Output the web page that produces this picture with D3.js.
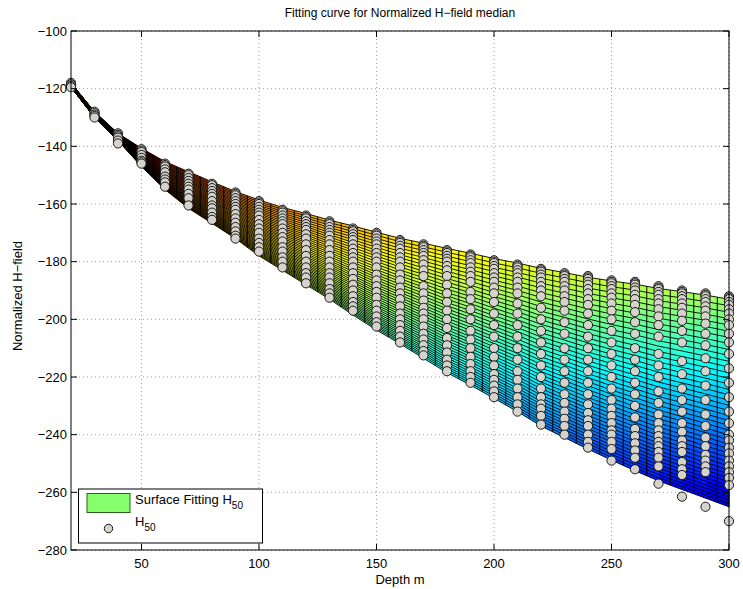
<!DOCTYPE html>
<html><head><meta charset="utf-8">
<script src="https://cdn.jsdelivr.net/npm/d3@7"></script>
<style>body{margin:0;background:#fff} text{font-family:"Liberation Sans",Arial,Helvetica,sans-serif;fill:#000}</style>
</head><body><svg id="c" width="743" height="589"></svg>
<script>
// ---------- data ----------
const depths = [20,30,40,50,60,70,80,90,100,110,120,130,140,150,160,170,180,190,200,210,220,230,240,250,260,270,280,290,300];
const surfTop = [-118,-128,-135.5,-140.7,-145.3,-148.8,-152.3,-155.7,-158.6,-161.2,-163.3,-165.6,-167.6,-169.8,-171.9,-173.6,-175.4,-177.1,-178.9,-180.5,-182.3,-183.8,-185.4,-186.7,-187.8,-189.3,-190.4,-191.6,-193];
const surfBottom = [-119.5,-130,-138,-147,-155,-161.5,-166.7,-172,-178,-183,-188,-193,-198.5,-203.7,-208.5,-213.5,-218.5,-222.8,-227.4,-232,-237,-241,-245,-248.8,-252.5,-256,-259,-262,-265];
const meshLevels = [0,.0317,.0630,.0940,.1245,.1547,.1845,.2139,.2429,.2715,.2998,.3276,.3551,.3822,.4089,.4352,.4611,.4867,.5118,.5366,.5610,.5850,.6086,.6318,.6547,.6772,.6992,.7209,.7422,.7631,.7837,.8038,.8236,.8430,.8619,.8806,.8988,.9166,.9341,.9511,.9678,.9841,1];
const colorLimits = [-278,-118];
const h50 = [
 [-118,-118.5,-119,-119.5],
 [-128,-128.5,-129,-129.5,-130],
 [-135.5,-136,-136.5,-137,-138,-139],
 [-141,-141.5,-142,-143,-144,-145,-145.5,-146],
 [-146,-146.5,-147,-148,-149,-150.5,-151.5,-152.5,-154],
 [-149.5,-150,-151,-152,-153,-154,-155,-156.5,-158,-160.5],
 [-153,-153.5,-154.5,-155.5,-156.5,-157.5,-159,-160.5,-161.5,-163,-164.5,-165.5],
 [-156,-156.5,-157,-158,-159,-160,-161,-162,-163.5,-165,-166.5,-168,-169.5,-171,-172],
 [-159,-159.5,-160,-161,-162,-163,-164,-165.5,-167,-168.5,-170,-172,-173.5,-175,-176.5],
 [-162,-162.5,-163,-164,-165,-166,-167,-168.5,-170,-171.5,-173,-175,-176.5,-178.5,-180,-182],
 [-164,-164.5,-165,-166,-167,-168,-169,-170.5,-172,-174,-176,-178,-180,-182,-184,-185.5,-187.5],
 [-166,-166.5,-167,-168,-169,-170,-171,-172.5,-174,-176,-178,-180,-182,-184,-185.5,-187.5,-189.5,-191,-192.5],
 [-168.5,-169,-169.5,-170.5,-171.5,-172.5,-174,-175.5,-177,-178.5,-180,-182,-184,-186,-188,-190,-192,-194,-195.5,-197],
 [-170,-170.5,-171,-172,-173,-174,-175.5,-177,-178.5,-180,-182,-184.5,-186.5,-188.5,-190.5,-192.5,-195,-197,-199,-201,-202.5],
 [-172.5,-173,-173.5,-174.5,-175.5,-177,-178.5,-180,-182,-184.5,-186.5,-189,-191,-193,-195.5,-198,-200,-202,-204,-206,-208],
 [-174,-174.5,-175,-176,-177,-178,-179.5,-181,-183,-185,-188.5,-191,-193.5,-196,-198,-200,-202.5,-205,-207,-209,-211,-212.5],
 [-176,-176.5,-177,-178,-179,-180,-181.5,-183,-185,-188,-191,-194,-197,-200,-203,-206.5,-209,-211.5,-214,-216,-218],
 [-177.5,-178,-178.5,-179.5,-180.5,-182,-183.5,-185,-187,-190.5,-193,-196.5,-200,-204,-207,-210,-213,-215.5,-218,-220,-222],
 [-179.5,-180,-180.5,-181.5,-182.5,-184,-185.5,-187,-189,-191,-194,-198,-202,-206,-210,-213,-216,-219,-221,-223,-225,-227],
 [-181,-181.5,-182,-183,-184,-185.5,-187,-189,-191,-194.5,-198,-202,-206,-210,-214,-218,-221,-224,-227,-229.5,-232],
 [-182.5,-183,-183.5,-184.5,-185.5,-187,-188.5,-190,-192,-196,-200,-204,-208,-212,-216,-220,-224,-227,-229.5,-231,-233.5,-236.5],
 [-184,-184.5,-185,-186,-187,-188.5,-190,-192,-194,-197,-201,-205,-210,-214,-218,-222,-226,-229,-232,-234.5,-237,-240],
 [-185,-185.5,-186,-187,-188,-189.5,-191,-193,-195,-198,-202,-206,-210,-214,-218,-222,-226,-229.5,-232.5,-235,-237,-240,-242.5,-244.5],
 [-186.5,-187,-187.5,-188.5,-189.5,-191,-192.5,-194.5,-197,-200,-204,-208,-212,-216,-220,-224,-228,-231,-233.5,-236,-238.5,-240,-242.5,-245,-249],
 [-187,-187.5,-188,-189,-190,-191.5,-193,-195,-197.5,-201,-205,-210,-214,-218,-222,-226,-230,-234,-238,-240.5,-243,-245.5,-248,-252],
 [-188.5,-189,-189.5,-190.5,-191.5,-193,-194.5,-196.5,-199,-202,-206,-212,-216,-220,-225,-229,-233,-236,-238.5,-240.5,-242.5,-244,-246,-248,-251,-257],
 [-190,-190.5,-191,-192,-193,-194.5,-196,-198,-200.5,-204,-208,-214.5,-219,-224,-228,-232,-236,-239,-242,-244,-246,-249.5,-252,-254,-261.5],
 [-191,-191.5,-192,-193,-194,-195.5,-197,-199,-201.5,-205,-209,-213.5,-218,-223,-228,-233,-237,-241,-244,-247,-249,-251,-253,-265],
 [-192,-192.5,-193,-194,-195,-196.5,-198,-200,-202,-205,-208,-212,-217,-222,-227,-232,-236,-240,-242,-244.5,-246.5,-249,-251,-253,-255,-257.5,-270]
];
const xTicks = [50,100,150,200,250,300];
const yTicks = [-100,-120,-140,-160,-180,-200,-220,-240,-260,-280];

// ---------- layout ----------
const svg = d3.select("#c");
const L = 71, R = 729, T = 31, B = 550;
const x = d3.scaleLinear().domain([20,300]).range([L,R]);
const y = d3.scaleLinear().domain([-280,-100]).range([B,T]);
const fmt = v => (v<0 ? "\u2212"+Math.abs(v) : ""+v);

function jet(t){
  t = Math.max(0, Math.min(1, t));
  const c = v => Math.round(255*Math.max(0, Math.min(1, v)));
  return `rgb(${c(1.5-Math.abs(4*t-3))},${c(1.5-Math.abs(4*t-2))},${c(1.5-Math.abs(4*t-1))})`;
}
const cnorm = d3.scaleLinear().domain(colorLimits).range([0,1]);

// grid
const grid = svg.append("g").attr("stroke","#777").attr("stroke-width",0.7).attr("stroke-dasharray","1,3");
xTicks.forEach(v=>grid.append("line").attr("x1",x(v)).attr("x2",x(v)).attr("y1",T).attr("y2",B));
yTicks.forEach(v=>grid.append("line").attr("x1",L).attr("x2",R).attr("y1",y(v)).attr("y2",y(v)));

// surface
const zAt = (i,k) => surfTop[i] + meshLevels[k]*(surfBottom[i]-surfTop[i]);
const faces = svg.append("g");
for (let i=0;i<depths.length-1;i++){
  for (let k=0;k<meshLevels.length-1;k++){
    const pts = [[depths[i],zAt(i,k)],[depths[i+1],zAt(i+1,k)],[depths[i+1],zAt(i+1,k+1)],[depths[i],zAt(i,k+1)]];
    const zm = d3.mean(pts, p=>p[1]);
    const col = jet(cnorm(zm));
    faces.append("path")
      .attr("d","M"+pts.map(p=>x(p[0])+","+y(p[1])).join("L")+"Z")
      .attr("fill",col).attr("stroke",col).attr("stroke-width",0.4);
  }
}
const mesh = svg.append("g").attr("fill","none").attr("stroke","#000");
const line = d3.line().x(d=>x(d[0])).y(d=>y(d[1]));
meshLevels.forEach((lv,k)=>{
  mesh.append("path").attr("d", line(depths.map((d,i)=>[d,zAt(i,k)]))).attr("stroke-width",0.9);
});
for (let i=0;i<depths.length-1;i++){
  const dm = (depths[i]+depths[i+1])/2;
  const tm = (surfTop[i]+surfTop[i+1])/2, bm = (surfBottom[i]+surfBottom[i+1])/2;
  mesh.append("line").attr("x1",x(dm)).attr("x2",x(dm)).attr("y1",y(tm)).attr("y2",y(bm)).attr("stroke-width",1);
}
[0, depths.length-1].forEach(i=>{
  mesh.append("line").attr("x1",x(depths[i])).attr("x2",x(depths[i])).attr("y1",y(surfTop[i])).attr("y2",y(surfBottom[i])).attr("stroke-width",1);
});

// points
const pts = svg.append("g").attr("fill","#d6d3cc").attr("stroke","#1a1a1a").attr("stroke-width",1);
h50.forEach((col,i)=>{
  col.forEach(v=>{
    pts.append("circle").attr("cx",x(depths[i])).attr("cy",y(v)).attr("r",4.6);
  });
});

// axes box and ticks
const ax = svg.append("g").attr("stroke","#000").attr("stroke-width",1);
ax.append("rect").attr("x",L).attr("y",T).attr("width",R-L).attr("height",B-T).attr("fill","none");
const tl = 6;
xTicks.forEach(v=>{
  ax.append("line").attr("x1",x(v)).attr("x2",x(v)).attr("y1",B).attr("y2",B-tl);
  ax.append("line").attr("x1",x(v)).attr("x2",x(v)).attr("y1",T).attr("y2",T+tl);
  svg.append("text").attr("x",x(v)).attr("y",B+18).attr("text-anchor","middle").attr("font-size",13).text(fmt(v));
});
yTicks.forEach(v=>{
  ax.append("line").attr("x1",L).attr("x2",L+tl).attr("y1",y(v)).attr("y2",y(v));
  ax.append("line").attr("x1",R).attr("x2",R-tl).attr("y1",y(v)).attr("y2",y(v));
  svg.append("text").attr("x",L-4).attr("y",y(v)+4.7).attr("text-anchor","end").attr("font-size",13).text(fmt(v));
});

// labels
svg.append("text").attr("x",400).attr("y",17).attr("text-anchor","middle").attr("font-size",12)
  .text("Fitting curve for Normalized H\u2212field median");
svg.append("text").attr("x",400).attr("y",584).attr("text-anchor","middle").attr("font-size",13).text("Depth m");
svg.append("text").attr("transform","translate(22,296) rotate(-90)").attr("text-anchor","middle").attr("font-size",13)
  .text("Normalized H\u2212field");

// legend
const lg = svg.append("g");
lg.append("rect").attr("x",78.5).attr("y",489).attr("width",184).attr("height",54).attr("fill","#fff").attr("stroke","#000").attr("stroke-width",1);
lg.append("rect").attr("x",87).attr("y",493.5).attr("width",43).attr("height",19).attr("fill","#86ff6c").attr("stroke","#2b5e20").attr("stroke-width",1);
const t1 = lg.append("text").attr("x",135).attr("y",504).attr("font-size",13);
t1.append("tspan").text("Surface Fitting H");
t1.append("tspan").attr("dy",5).attr("font-size",10).text("50");
lg.append("circle").attr("cx",108.5).attr("cy",528.5).attr("r",4.2).attr("fill","#d6d3cc").attr("stroke","#1a1a1a");
const t2 = lg.append("text").attr("x",135).attr("y",526).attr("font-size",13);
t2.append("tspan").text("H");
t2.append("tspan").attr("dy",5).attr("font-size",10).text("50");
</script></body></html>
